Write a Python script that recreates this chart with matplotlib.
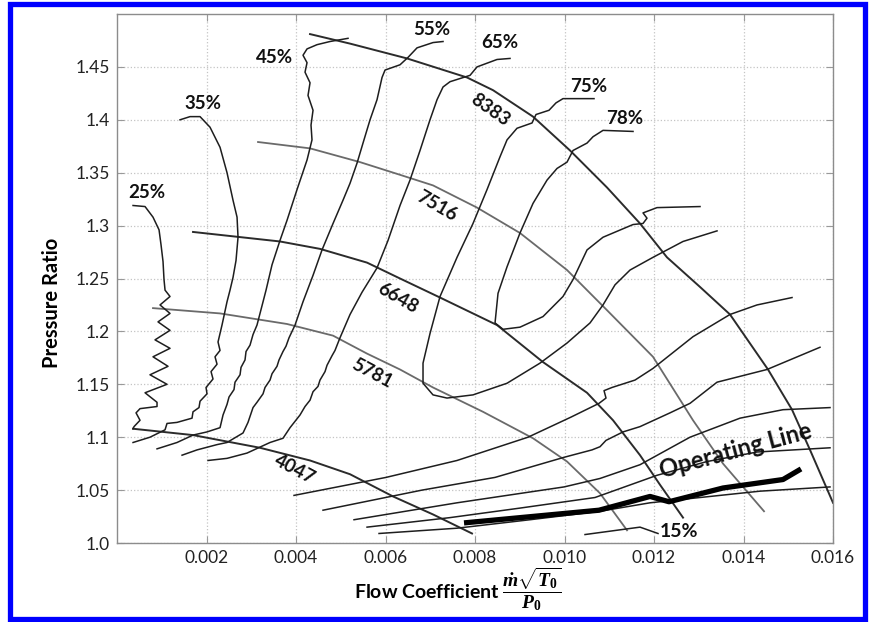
import numpy as np
import matplotlib.pyplot as plt
from matplotlib.patches import Rectangle

plt.rcParams['font.family'] = ['Lato', 'DejaVu Sans']
plt.rcParams['mathtext.fontset'] = 'custom'
plt.rcParams['mathtext.rm'] = 'Liberation Serif:bold'
plt.rcParams['mathtext.it'] = 'Liberation Serif:italic:bold'
plt.rcParams['mathtext.bf'] = 'Liberation Serif:bold'

# flow coefficient given in units of 1e-3, pressure ratio
# constant speed lines
spd_8383_x = [4.313, 5.207, 6.480, 7.821, 8.402, 9.296, 10.123, 10.950, 11.687, 12.290, 13.028, 13.698, 14.547, 15.084, 15.486, 16.0]
spd_8383_y = [1.481, 1.472, 1.458, 1.440, 1.428, 1.403, 1.371, 1.336, 1.302, 1.270, 1.242, 1.216, 1.164, 1.126, 1.088, 1.038]
spd_7516_x = [3.151, 4.313, 5.430, 6.324, 7.061, 8.045, 9.005, 10.056, 10.950, 11.977, 12.871, 13.542, 14.458]
spd_7516_y = [1.379, 1.373, 1.360, 1.348, 1.338, 1.317, 1.293, 1.258, 1.220, 1.176, 1.116, 1.075, 1.030]
spd_6648_x = [1.698, 3.642, 4.536, 5.587, 6.324, 7.218, 8.491, 9.519, 10.503, 11.084, 11.687, 12.134, 12.648]
spd_6648_y = [1.294, 1.285, 1.278, 1.265, 1.250, 1.232, 1.206, 1.171, 1.142, 1.116, 1.083, 1.055, 1.024]
spd_5781_x = [0.804, 2.302, 3.799, 4.827, 5.587, 6.324, 7.061, 8.179, 9.296, 10.056, 10.793, 11.397]
spd_5781_y = [1.222, 1.217, 1.207, 1.196, 1.179, 1.164, 1.147, 1.124, 1.099, 1.077, 1.047, 1.012]
spd_4047_x = [0.358, 1.698, 3.196, 4.313, 5.207, 6.168, 7.061, 7.933]
spd_4047_y = [1.108, 1.102, 1.090, 1.078, 1.065, 1.044, 1.027, 1.009]

# efficiency contours, surge side
eff_25_x = [0.358, 0.626, 0.804, 0.939, 0.983, 1.028, 1.050, 1.073, 1.184, 0.961, 1.184, 0.916, 1.184, 0.849,
            1.184, 0.804, 1.140, 0.737, 1.117, 0.626, 0.894, 0.894, 0.514, 0.425, 0.514, 0.380, 0.358]
eff_25_y = [1.319, 1.318, 1.308, 1.296, 1.282, 1.266, 1.249, 1.239, 1.233, 1.225, 1.217, 1.209, 1.201, 1.192,
            1.184, 1.176, 1.167, 1.159, 1.150, 1.142, 1.133, 1.129, 1.127, 1.123, 1.116, 1.110, 1.108]
eff_35_x = [1.408, 1.631, 1.855, 2.078, 2.302, 2.458, 2.592, 2.682, 2.704, 2.659, 2.592, 2.525, 2.458, 2.346,
            2.257, 2.302, 2.190, 2.235, 2.101, 2.145, 1.989, 2.011, 1.855, 1.832, 1.698, 1.676, 1.341, 1.117,
            1.073, 0.737, 0.358]
eff_35_y = [1.400, 1.403, 1.403, 1.393, 1.374, 1.350, 1.324, 1.308, 1.289, 1.267, 1.251, 1.239, 1.228, 1.206,
            1.190, 1.182, 1.176, 1.169, 1.162, 1.155, 1.147, 1.141, 1.134, 1.128, 1.124, 1.118, 1.114, 1.113,
            1.107, 1.100, 1.095]
eff_45_x = [5.162, 4.760, 4.469, 4.246, 4.156, 4.246, 4.201, 4.313, 4.268, 4.380, 4.335, 4.357, 4.246, 4.022,
            3.799, 3.642, 3.464, 3.330, 3.263, 3.128, 3.039, 2.972, 2.883, 2.860, 2.771, 2.749, 2.637, 2.614,
            2.503, 2.458, 2.369, 2.302, 2.011, 1.698, 1.341, 0.894]
eff_45_y = [1.477, 1.474, 1.471, 1.467, 1.461, 1.454, 1.445, 1.435, 1.423, 1.409, 1.395, 1.381, 1.362, 1.334,
            1.305, 1.286, 1.263, 1.239, 1.228, 1.206, 1.197, 1.187, 1.181, 1.173, 1.166, 1.159, 1.152, 1.145,
            1.138, 1.131, 1.121, 1.109, 1.105, 1.102, 1.095, 1.089]
eff_55_x = [7.285, 7.061, 6.704, 6.503, 6.324, 5.989, 5.922, 5.810, 5.654, 5.497, 5.363, 5.207, 5.050, 4.827,
            4.581, 4.380, 4.156, 3.978, 3.844, 3.776, 3.709, 3.620, 3.575, 3.464, 3.419, 3.307, 3.263, 3.128,
            3.039, 2.927, 2.816, 2.458, 2.235, 1.788, 1.453]
eff_55_y = [1.474, 1.473, 1.468, 1.459, 1.452, 1.447, 1.440, 1.419, 1.400, 1.378, 1.359, 1.340, 1.324, 1.302,
            1.277, 1.253, 1.228, 1.206, 1.194, 1.186, 1.181, 1.173, 1.167, 1.160, 1.154, 1.147, 1.141, 1.133,
            1.128, 1.114, 1.104, 1.095, 1.093, 1.088, 1.083]
eff_65_x = [8.782, 8.491, 8.045, 7.888, 7.441, 7.285, 7.151, 6.994, 6.771, 6.547, 6.324, 6.056, 5.810, 5.475,
            5.207, 4.983, 4.871, 4.804, 4.693, 4.648, 4.536, 4.491, 4.380, 4.313, 4.201, 4.089, 3.866, 3.709,
            3.419, 2.905, 2.458, 2.034]
eff_65_y = [1.458, 1.457, 1.450, 1.442, 1.436, 1.431, 1.419, 1.400, 1.371, 1.343, 1.319, 1.286, 1.260, 1.237,
            1.216, 1.194, 1.182, 1.177, 1.168, 1.162, 1.154, 1.148, 1.143, 1.135, 1.129, 1.121, 1.109, 1.099,
            1.095, 1.085, 1.080, 1.078]
# closed-ish islands
eff_75_x = [10.659, 9.966, 9.810, 9.653, 9.363, 9.274, 8.938, 8.715, 8.558, 8.268, 7.955, 7.598, 7.218, 6.994,
            6.838, 6.838, 7.061, 7.374, 7.955, 8.715, 9.452, 10.056, 10.570, 10.860, 11.128, 11.464, 11.977,
            12.648, 13.408]
eff_75_y = [1.420, 1.420, 1.416, 1.409, 1.405, 1.397, 1.392, 1.381, 1.365, 1.334, 1.302, 1.270, 1.233, 1.198,
            1.170, 1.151, 1.140, 1.137, 1.140, 1.151, 1.170, 1.189, 1.208, 1.225, 1.244, 1.258, 1.270, 1.285, 1.295]
eff_78_x = [11.531, 10.860, 10.637, 10.503, 10.190, 10.056, 9.832, 9.609, 9.296, 9.005, 8.715, 8.514, 8.447,
            8.626, 9.005, 9.519, 9.966, 10.190, 10.503, 10.860, 11.531, 11.754, 11.843, 11.754, 12.067, 13.028]
eff_78_y = [1.389, 1.390, 1.384, 1.378, 1.371, 1.360, 1.354, 1.343, 1.321, 1.293, 1.261, 1.236, 1.208, 1.202,
            1.204, 1.214, 1.233, 1.249, 1.277, 1.289, 1.301, 1.302, 1.307, 1.312, 1.317, 1.318]

# efficiency contours, choke side (low pressure ratio)
low_a_x = [3.955, 6.011, 7.598, 9.184, 10.145, 10.771, 10.927, 10.883, 11.061, 11.575, 11.977, 12.871, 13.698, 14.301, 15.084]
low_a_y = [1.045, 1.062, 1.078, 1.100, 1.119, 1.132, 1.137, 1.144, 1.147, 1.154, 1.165, 1.195, 1.216, 1.225, 1.232]
low_b_x = [4.603, 6.816, 8.447, 9.989, 10.614, 10.793, 10.927, 11.307, 11.687, 12.357, 12.804, 13.408, 14.525, 15.709]
low_b_y = [1.031, 1.050, 1.062, 1.081, 1.088, 1.091, 1.097, 1.105, 1.110, 1.123, 1.132, 1.152, 1.164, 1.185]
low_c_x = [5.296, 7.598, 9.989, 10.793, 11.687, 12.804, 13.922, 14.882, 15.933]
low_c_y = [1.022, 1.038, 1.053, 1.061, 1.074, 1.100, 1.118, 1.126, 1.128]
low_d_x = [5.587, 7.441, 9.005, 10.681, 12.067, 13.184, 14.301, 15.933]
low_d_y = [1.015, 1.024, 1.033, 1.043, 1.064, 1.077, 1.086, 1.090]
low_e_x = [5.855, 7.598, 9.229, 10.793, 11.911, 13.028, 14.368, 15.933]
low_e_y = [1.009, 1.014, 1.022, 1.030, 1.038, 1.043, 1.049, 1.053]
eff_15_x = [10.458, 11.687, 12.089]
eff_15_y = [1.008, 1.015, 1.009]

# operating line
op_x = [7.754, 10.771, 11.911, 12.335, 13.542, 14.882, 15.285]
op_y = [1.019, 1.031, 1.044, 1.039, 1.052, 1.060, 1.070]

speed_labels = ['8383', '7516', '6648', '5781', '4047']
speed_lab_x = [8.34, 7.15, 6.28, 5.70, 3.98]
speed_lab_y = [1.409, 1.318, 1.231, 1.160, 1.070]
speed_lab_rot = [-35, -30, -30, -28, -28]

eff_labels = ['25%', '35%', '45%', '55%', '65%', '75%', '78%']
eff_lab_x = [0.67, 1.92, 3.51, 7.04, 8.56, 10.55, 11.35]
eff_lab_y = [1.331, 1.415, 1.459, 1.485, 1.473, 1.431, 1.401]

x_ticks = [0.002, 0.004, 0.006, 0.008, 0.010, 0.012, 0.014, 0.016]
x_tick_labels = ['0.002', '0.004', '0.006', '0.008', '0.010', '0.012', '0.014', '0.016']
y_ticks = [1.0, 1.05, 1.1, 1.15, 1.2, 1.25, 1.3, 1.35, 1.4, 1.45]
y_tick_labels = ['1.0', '1.05', '1.1', '1.15', '1.2', '1.25', '1.3', '1.35', '1.4', '1.45']


def draw(ax, xs, ys, **kw):
    ax.plot(np.array(xs) * 1e-3, ys, solid_joinstyle='round', **kw)


fig = plt.figure(figsize=(8.72, 6.22), dpi=100)
ax = fig.add_axes([0.1342, 0.1270, 0.8211, 0.8505])

dark = '#2b2b2b'
grey = '#6a6a6a'
draw(ax, spd_8383_x, spd_8383_y, color=dark, lw=1.4)
draw(ax, spd_7516_x, spd_7516_y, color=grey, lw=1.3)
draw(ax, spd_6648_x, spd_6648_y, color=dark, lw=1.4)
draw(ax, spd_5781_x, spd_5781_y, color=grey, lw=1.3)
draw(ax, spd_4047_x, spd_4047_y, color=dark, lw=1.4)

for xs, ys in [(eff_25_x, eff_25_y), (eff_35_x, eff_35_y), (eff_45_x, eff_45_y),
               (eff_55_x, eff_55_y), (eff_65_x, eff_65_y), (eff_75_x, eff_75_y),
               (eff_78_x, eff_78_y), (low_a_x, low_a_y), (low_b_x, low_b_y),
               (low_c_x, low_c_y), (low_d_x, low_d_y), (low_e_x, low_e_y),
               (eff_15_x, eff_15_y)]:
    draw(ax, xs, ys, color='#1e1e1e', lw=1.1)

draw(ax, op_x, op_y, color='black', lw=3.8, solid_capstyle='butt')

for lab, lx, ly, rot in zip(speed_labels, speed_lab_x, speed_lab_y, speed_lab_rot):
    ax.text(lx * 1e-3, ly, lab, rotation=rot, ha='center', va='center',
            fontsize=13.5, fontweight='bold', color='#111')
for lab, lx, ly in zip(eff_labels, eff_lab_x, eff_lab_y):
    ax.text(lx * 1e-3, ly, lab, ha='center', va='center',
            fontsize=13.5, fontweight='bold', color='#111')
ax.text(12.12e-3, 1.011, '15%', ha='left', va='center',
        fontsize=14, fontweight='bold', color='#111')
ax.text(13.83e-3, 1.087, 'Operating Line', rotation=15, ha='center', va='center',
        fontsize=17, fontweight='bold', color='#111')

ax.set_xlim(0, 0.016)
ax.set_ylim(1.0, 1.5)
ax.set_xticks(x_ticks)
ax.set_xticklabels(x_tick_labels)
ax.set_yticks(y_ticks)
ax.set_yticklabels(y_tick_labels)
ax.tick_params(direction='in', length=5, color='#999999', top=True, right=True,
               labelsize=12.5, labelcolor='#222222', pad=5)
ax.grid(True, ls=':', color='#c4c4c4', lw=0.9)
for s in ax.spines.values():
    s.set_color('#8c8c8c')
    s.set_linewidth(1.0)

ax.set_ylabel('Pressure Ratio', fontsize=14.5, fontweight='bold')
ax.yaxis.set_label_coords(-0.077, 0.454)
ax.set_xlabel(r'Flow Coefficient $\dfrac{\dot{m}\sqrt{T_0}}{P_0}$', fontsize=14,
              fontweight='bold', va='center')
ax.xaxis.set_label_coords(0.476, -0.087)

# blue frame around the whole picture
fig.patches.append(Rectangle((9.5 / 872, 3.5 / 622), (865 - 9.5) / 872, (618.5 - 3.5) / 622,
                             transform=fig.transFigure, fill=False, edgecolor='#0000ff', lw=3.8))

fig.savefig('out.png', dpi=100)
